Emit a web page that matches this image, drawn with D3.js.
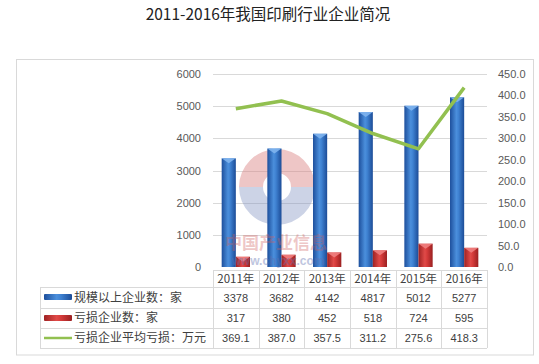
<!DOCTYPE html>
<html><head><meta charset="utf-8">
<script src="https://cdn.jsdelivr.net/npm/d3@7"></script>
<style>body{margin:0;background:#fff;}svg{display:block;}</style>
</head><body>
<script>
const years = ["2011年","2012年","2013年","2014年","2015年","2016年"];
const scaleCount = [3378,3682,4142,4817,5012,5277];
const lossCount = [317,380,452,518,724,595];
const avgLoss = [369.1,387.0,357.5,311.2,275.6,418.3];
const seriesNames = ["规模以上企业数：家","亏损企业数：家","亏损企业平均亏损：万元"];
const leftTicks = [0,1000,2000,3000,4000,5000,6000];
const rightTicks = [0,50,100,150,200,250,300,350,400,450];
const lossLabels = ["369.1","387.0","357.5","311.2","275.6","418.3"];

const W=539,H=364;
const svg=d3.select("body").append("svg").attr("width",W).attr("height",H);
const defs=svg.append("defs");
function grad(id,stops){const g=defs.append("linearGradient").attr("id",id).attr("x1","0").attr("x2","1").attr("y1","0").attr("y2","0");
stops.forEach(s=>g.append("stop").attr("offset",s[0]).attr("stop-color",s[1]));}
grad("gBlue",[[0,"#1d4f9c"],[0.45,"#4b8fdc"],[0.6,"#3f82d2"],[1,"#1c4c97"]]);
grad("gRed",[[0,"#9e2223"],[0.45,"#e04a48"],[0.6,"#d63c3b"],[1,"#9a2021"]]);

// title
svg.append("text").attr("x",268).attr("y",20).attr("text-anchor","middle")
 .attr("font-family","'Noto Sans CJK SC',sans-serif").attr("font-size",15.5).attr("fill","#222")
 .text("2011-2016年我国印刷行业企业简况");

// frame
svg.append("rect").attr("x",16.5).attr("y",59.5).attr("width",517).attr("height",295.5)
 .attr("fill","none").attr("stroke","#d9d9d9");

const x=d3.scaleBand().domain(years).range([213,487]);
const yL=d3.scaleLinear().domain([0,6000]).range([267,74]);
const yR=d3.scaleLinear().domain([0,450]).range([267,74]);

// gridlines
svg.append("g").selectAll("line").data(leftTicks.slice(1)).join("line")
 .attr("x1",213).attr("x2",487).attr("y1",d=>Math.round(yL(d))+0.5).attr("y2",d=>Math.round(yL(d))+0.5)
 .attr("stroke","#d9d9d9");

// axes labels
const font="'Liberation Sans',Arial,sans-serif";
const axL=d3.axisLeft(yL).tickValues(leftTicks).tickSize(0).tickPadding(12).tickFormat(d3.format("d"));
const gL=svg.append("g").attr("transform","translate(213,0)").call(axL);
gL.select(".domain").remove();
gL.selectAll("text").attr("font-family",font).attr("font-size",11).attr("fill","#595959");
const axR=d3.axisRight(yR).tickValues(rightTicks).tickSize(0).tickPadding(11).tickFormat(d3.format(".1f"));
const gR=svg.append("g").attr("transform","translate(487,0)").call(axR);
gR.select(".domain").remove();
gR.selectAll("text").attr("font-family",font).attr("font-size",11).attr("fill","#595959");

// watermark logo
const wm=svg.append("g");
wm.append("path").attr("d",d3.arc()({innerRadius:14,outerRadius:38,startAngle:-Math.PI/2,endAngle:Math.PI/2}))
 .attr("transform","translate(277,187)").attr("fill","#d98080").attr("opacity",0.45);
wm.append("path").attr("d",d3.arc()({innerRadius:14,outerRadius:38,startAngle:Math.PI/2,endAngle:Math.PI*1.5}))
 .attr("transform","translate(277,187)").attr("fill","#8090c0").attr("opacity",0.4);

// bars
const bw=x.bandwidth()*0.31;
function bar(vals,off,fill,cap){
 const g=svg.append("g");
 vals.forEach((v,i)=>{
  const x0=x(years[i])+x.bandwidth()/2+off*bw;
  const y0=yL(v);
  g.append("rect").attr("x",x0).attr("y",y0).attr("width",bw).attr("height",yL(0)-y0).attr("fill",fill);
  g.append("path").attr("d",`M${x0},${y0}L${x0+bw},${y0}L${x0+bw/2},${y0+5}Z`).attr("fill",cap).attr("opacity",0.9);
 });
}
bar(scaleCount,-1,"url(#gBlue)","#7fb4ee");
bar(lossCount,0,"url(#gRed)","#f08080");

// watermark text
svg.append("text").attr("x",276).attr("y",249).attr("text-anchor","middle")
 .attr("font-family","'Noto Sans CJK SC',sans-serif").attr("font-weight","bold").attr("font-size",17)
 .attr("fill","#d06060").attr("opacity",0.35).text("中国产业信息");
svg.append("text").attr("x",278).attr("y",265).attr("text-anchor","middle")
 .attr("font-family",font).attr("font-weight","bold").attr("font-size",12)
 .attr("fill","#6070b0").attr("opacity",0.4).text("www.chyxx.com");

// line
const line=d3.line().x((d,i)=>x(years[i])+x.bandwidth()/2).y(d=>yR(d));
svg.append("path").datum(avgLoss).attr("d",line).attr("fill","none").attr("stroke","#92c050")
 .attr("stroke-width",3.5).attr("stroke-linejoin","round");

// data table
const tg=svg.append("g");
const bc="#d9d9d9";
tg.append("line").attr("x1",213).attr("x2",487).attr("y1",270.5).attr("y2",270.5).attr("stroke",bc);
[287,308,328,348].forEach(y=>tg.append("line").attr("x1",40).attr("x2",487).attr("y1",y+0.5).attr("y2",y+0.5).attr("stroke",bc));
tg.append("line").attr("x1",40.5).attr("x2",40.5).attr("y1",287).attr("y2",348).attr("stroke",bc);
const colEdges=years.map(d=>x(d)).concat([487]);
colEdges.forEach(cx=>tg.append("line").attr("x1",Math.round(cx)+0.5).attr("x2",Math.round(cx)+0.5).attr("y1",270).attr("y2",348).attr("stroke",bc));
const tf="'Liberation Sans',Arial,sans-serif";
years.forEach((yr,i)=>{
 const cx=x(yr)+x.bandwidth()/2;
 tg.append("text").attr("x",cx).attr("y",283).attr("text-anchor","middle").attr("font-family","'Noto Sans CJK SC',sans-serif").attr("font-size",11.5).attr("fill","#404040").text(yr);
 tg.append("text").attr("x",cx).attr("y",302).attr("text-anchor","middle").attr("font-family",tf).attr("font-size",11).attr("fill","#404040").text(scaleCount[i]);
 tg.append("text").attr("x",cx).attr("y",322).attr("text-anchor","middle").attr("font-family",tf).attr("font-size",11).attr("fill","#404040").text(lossCount[i]);
 tg.append("text").attr("x",cx).attr("y",342).attr("text-anchor","middle").attr("font-family",tf).attr("font-size",11).attr("fill","#404040").text(lossLabels[i]);
});
// legend keys
tg.append("rect").attr("x",44).attr("y",294).attr("width",28).attr("height",6).attr("rx",1).attr("fill","url(#gBlue)");
tg.append("rect").attr("x",44).attr("y",315).attr("width",28).attr("height",6).attr("rx",1).attr("fill","url(#gRed)");
tg.append("line").attr("x1",44).attr("x2",72).attr("y1",338).attr("y2",338).attr("stroke","#92c050").attr("stroke-width",2.5);
seriesNames.forEach((n,i)=>{
 tg.append("text").attr("x",74).attr("y",[302,322,342][i]).attr("font-family","'Noto Sans CJK SC',sans-serif").attr("font-size",12).attr("fill","#404040").text(n);
});
</script>
</body></html>
